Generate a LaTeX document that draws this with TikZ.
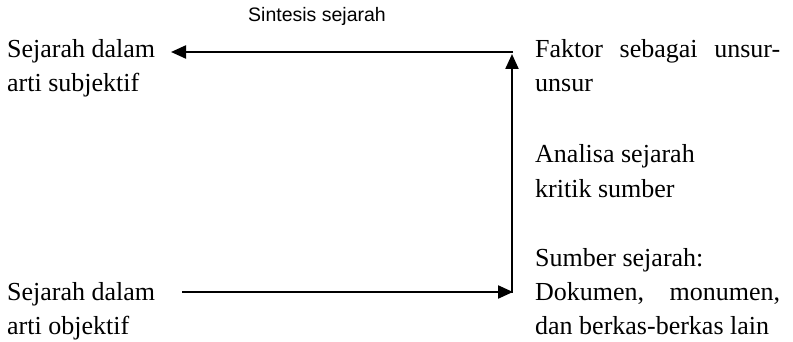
\documentclass[tikz,border=0pt]{standalone}
\usepackage{fontspec}
\setmainfont{Liberation Serif}
\newfontfamily\sansf{Liberation Sans}
\usetikzlibrary{arrows.meta}
\begin{document}
\begin{tikzpicture}[x=1pt,y=-1pt,
  lbl/.style={anchor=base west,inner sep=0pt,font=\fontsize{26}{34}\selectfont},
  sanslbl/.style={anchor=base west,inner sep=0pt,font=\sansf\fontsize{19.5}{24}\selectfont},
  conn/.style={line width=2.2pt,-{Triangle[length=15pt,width=13pt]}}]
\useasboundingbox (0,0) rectangle (793,342);
% left texts
\node[lbl] (subj1) at (7,58) {Sejarah dalam};
\node[lbl] (subj2) at (7,92) {arti subjektif};
\node[lbl] (obj1) at (7,300) {Sejarah dalam};
\node[lbl] (obj2) at (7,334) {arti objektif};
% top label
\node[sanslbl] (sin) at (248,22) {Sintesis sejarah};
% right texts
\node[lbl] (fak1) at (535,58) {\makebox[245pt][s]{Faktor\hfill sebagai\hfill unsur-}};
\node[lbl] (fak2) at (535,92) {unsur};
\node[lbl] (ana1) at (535,163) {Analisa sejarah};
\node[lbl] (ana2) at (535,197) {kritik sumber};
\node[lbl] (sum1) at (535,266) {Sumber sejarah:};
\node[lbl] (sum2) at (535,300) {\makebox[245pt][s]{Dokumen,\hfill monumen,}};
\node[lbl] (sum3) at (535,334) {dan berkas-berkas lain};
% connector points
\coordinate (tl) at (171,52);
\coordinate (tr) at (513.1,52);
\coordinate (vb) at (512,293.1);
\coordinate (vt) at (512,54);
\coordinate (bl) at (182,292);
\coordinate (br) at (513,292);
\draw[conn] (bl) -- (br);
\draw[conn] (vb) -- (vt);
\draw[conn] (tr) -- (tl);
\end{tikzpicture}
\end{document}
